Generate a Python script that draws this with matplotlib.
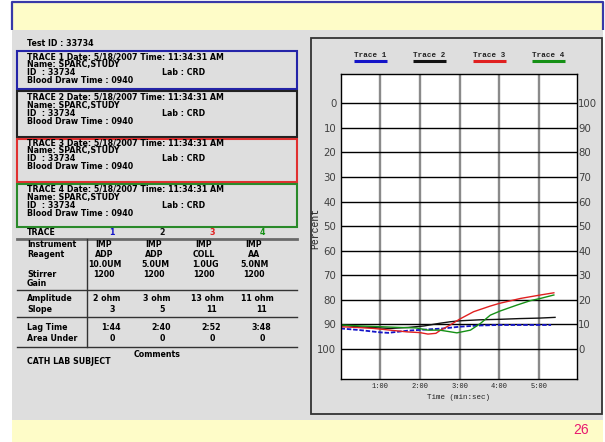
import matplotlib
matplotlib.use("Agg")
import matplotlib.pyplot as plt
from matplotlib.patches import Rectangle

# ---------------- data ----------------
trace_names = ["Trace 1", "Trace 2", "Trace 3", "Trace 4"]
trace_colors = ["#1414c8", "#111111", "#e02020", "#159015"]

t1_time = [0, 0.5, 1.0, 1.2, 1.7, 2.2, 2.6, 3.0, 3.5, 4.0, 4.5, 5.0, 5.3]
t1_val = [91.6, 92.3, 93.2, 93.4, 92.5, 92.0, 91.6, 90.9, 90.4, 90.2, 90.2, 90.2, 90.2]

t2_time = [0, 0.5, 1.25, 1.7, 2.1, 2.5, 2.76, 3.0, 3.5, 4.0, 4.5, 5.0, 5.4]
t2_val = [90.2, 91.0, 91.6, 91.2, 90.6, 89.5, 88.9, 88.5, 88.1, 87.9, 87.6, 87.4, 87.1]

t3_time = [0, 0.4, 0.83, 1.25, 1.67, 2.0, 2.2, 2.4, 2.5, 2.76, 3.0, 3.35, 3.77, 4.0, 4.53, 5.03, 5.37]
t3_val = [90.9, 91.2, 91.6, 92.3, 93.0, 93.3, 93.9, 93.6, 92.5, 90.2, 87.8, 84.8, 82.5, 81.4, 79.4, 78.0, 77.1]

t4_time = [0, 0.5, 1.0, 1.5, 1.9, 2.2, 2.5, 2.93, 3.27, 3.52, 3.77, 4.02, 4.44, 4.78, 5.03, 5.37]
t4_val = [90.2, 90.6, 90.9, 91.2, 91.4, 92.3, 92.3, 93.4, 92.3, 89.6, 86.2, 84.5, 82.1, 80.3, 79.4, 78.0]

y_ticks = [0, 10, 20, 30, 40, 50, 60, 70, 80, 90, 100]
x_ticks = [1, 2, 3, 4, 5]
x_tick_labels = ["1:00", "2:00", "3:00", "4:00", "5:00"]

test_id = "Test ID : 33734"
header_lines = ["Date: 5/18/2007 Time: 11:34:31 AM", "Name: SPARC,STUDY", "ID  : 33734", "Blood Draw Time : 0940"]
lab_text = "Lab : CRD"

table_cols = ["1", "2", "3", "4"]
instrument = ["IMP", "IMP", "IMP", "IMP"]
reagent = ["ADP", "ADP", "COLL", "AA"]
concentration = ["10.0UM", "5.0UM", "1.0UG", "5.0NM"]
stirrer = ["1200", "1200", "1200", "1200"]
amplitude = ["2 ohm", "3 ohm", "13 ohm", "11 ohm"]
slope = ["3", "5", "11", "11"]
lag_time = ["1:44", "2:40", "2:52", "3:48"]
area_under = ["0", "0", "0", "0"]
comment = "CATH LAB SUBJECT"
page_number = "26"

# ---------------- figure ----------------
W, H = 605, 442
fig = plt.figure(figsize=(6.05, 4.42), dpi=100)
fig.patch.set_facecolor("white")
bg = fig.add_axes([0, 0, 1, 1], zorder=0)
bg.set_xlim(0, W)
bg.set_ylim(H, 0)
bg.axis("off")

YEL = "#fefcc8"
GRAY = "#dedede"


def rect(x0, y0, x1, y1, **kw):
    bg.add_patch(Rectangle((x0, y0), x1 - x0, y1 - y0, **kw))


rect(12, 2, 603, 30, fc=YEL, ec="none")
bg.plot([12, 12, 603, 603], [30, 2, 2, 30], color="#3838a8", lw=1.6, solid_capstyle="butt")
rect(12, 30, 603, 420, fc=GRAY, ec="none")
rect(12, 420, 603, 442, fc=YEL, ec="none")
bg.text(581.5, 430, page_number, color="#e8196e", fontsize=10, family="Liberation Sans",
        ha="center", va="center")

# chart frame
rect(311, 38, 602, 414, fc="none", ec="#333333", lw=1.3)

# ---------------- left panel ----------------
TF = dict(family="DejaVu Sans", weight="bold", fontsize=5.7, va="center")
bg.text(27, 44, test_id, color="black", **TF)

boxes = [
    (51, 89, [56.7, 64.8, 72.8, 80.8]),
    (91, 136.7, [97.5, 105.5, 113.3, 121.1]),
    (139.3, 181.7, [142.6, 150.5, 158.4, 166.3]),
    (184, 227.3, [189.5, 197.4, 205.2, 213]),
]
box_edges = ["#2424a8", "#222222", "#e03030", "#2a8a2a"]
for i, (top, bot, ys) in enumerate(boxes):
    rect(17.3, top, 297, bot, fc="none", ec=box_edges[i], lw=1.5)
    bg.text(27, ys[0], "TRACE %d " % (i + 1) + header_lines[0], **TF)
    bg.text(27, ys[1], header_lines[1], **TF)
    bg.text(27, ys[2], header_lines[2], **TF)
    bg.text(161.7, ys[2], lab_text, **TF)
    bg.text(27, ys[3], header_lines[3], **TF)

col_x = [104, 154, 204, 254]
CF = dict(TF, ha="center")

bg.text(27, 232.7, "TRACE", **TF)
for j, c in enumerate(table_cols):
    bg.text(col_x[j] + 8, 232.7, c, color=trace_colors[j], **CF)
bg.plot([17, 297], [239.3, 239.3], color="#6a6a6a", lw=2.0)

rows = [
    ("Instrument", 244.3, instrument, 0),
    ("Reagent", 254.5, reagent, 0),
    (None, 264.3, concentration, 1),
    ("Stirrer", 274.2, stirrer, 0),
    ("Gain", 283.8, None, 0),
    ("Amplitude", 298.3, amplitude, 3),
    ("Slope", 310, slope, 8),
    ("Lag Time", 327.7, lag_time, 7),
    ("Area Under", 338.3, area_under, 8),
]
for label, y, vals, off in rows:
    if label:
        bg.text(27, y, label, **TF)
    if vals:
        for j, v in enumerate(vals):
            bg.text(col_x[j] + off, y, v, **CF)

for y in [290, 317.3, 346.7]:
    bg.plot([17, 297], [y, y], color="#333333", lw=1.0)
bg.plot([87.3, 87.3], [239.3, 346.7], color="#333333", lw=1.0)
bg.text(156.7, 354.3, "Comments", **CF)
bg.text(26.7, 362, comment, **TF)

# ---------------- chart ----------------
L, R, T, B = 340.5, 577.3, 74.3, 379.3
ax = fig.add_axes([L / W, 1 - B / H, (R - L) / W, (B - T) / H], zorder=2)
ax.set_facecolor("white")
ax.set_xlim(0, 5.96)
ax.set_ylim(112.3, -11.8)
ax.set_axisbelow(True)

ax.set_yticks(y_ticks)
ax.set_yticklabels([str(v) for v in y_ticks])
ax.set_xticks(x_ticks)
ax.set_xticklabels(x_tick_labels)
ax.yaxis.grid(True, color="black", lw=1.0)
ax.xaxis.grid(True, color="#8a8a8a", lw=1.7)
ax.tick_params(axis="y", length=0, pad=3, labelsize=7.3, labelcolor="#404040")
ax.tick_params(axis="x", length=0, pad=2.5, labelsize=5, labelcolor="#222222")
for lab in ax.get_xticklabels():
    lab.set_family("Liberation Mono")
for lab in ax.get_yticklabels():
    lab.set_family("DejaVu Sans")
for s in ax.spines.values():
    s.set_color("black")
    s.set_linewidth(1.0)

tw = ax.twinx()
tw.set_ylim(ax.get_ylim())
tw.set_yticks(y_ticks)
tw.set_yticklabels([str(100 - v) for v in y_ticks])
tw.tick_params(axis="y", length=0, pad=0.6, labelsize=7.3, labelcolor="#404040")
for s in tw.spines.values():
    s.set_visible(False)

series = [(t1_time, t1_val), (t2_time, t2_val), (t3_time, t3_val), (t4_time, t4_val)]
styles = [dict(ls=(0, (2.5, 1)), lw=1.3), dict(lw=1.0), dict(lw=1.0), dict(lw=1.0)]
for (tt, vv), col, st in zip(series, trace_colors, styles):
    ax.plot(tt, vv, color=col, **st)

ax.set_xlabel("Time (min:sec)", family="Liberation Mono", fontsize=5.4, labelpad=3, color="#222222")
bg.text(315, 228, "Percent", rotation=90, family="Liberation Mono", fontsize=7,
        ha="center", va="center", color="#222222")

# legend
leg_x = [370, 429, 489, 548]
for name, col, x in zip(trace_names, trace_colors, leg_x):
    bg.text(x, 55.2, name, family="Liberation Mono", weight="bold", fontsize=5.5,
            ha="center", va="center", color="#222222")
    bg.plot([x - 16.5, x + 16.5], [60.7, 60.7], color=col, lw=2.2, solid_capstyle="butt")

fig.savefig("out.png", dpi=100, facecolor=fig.get_facecolor())
